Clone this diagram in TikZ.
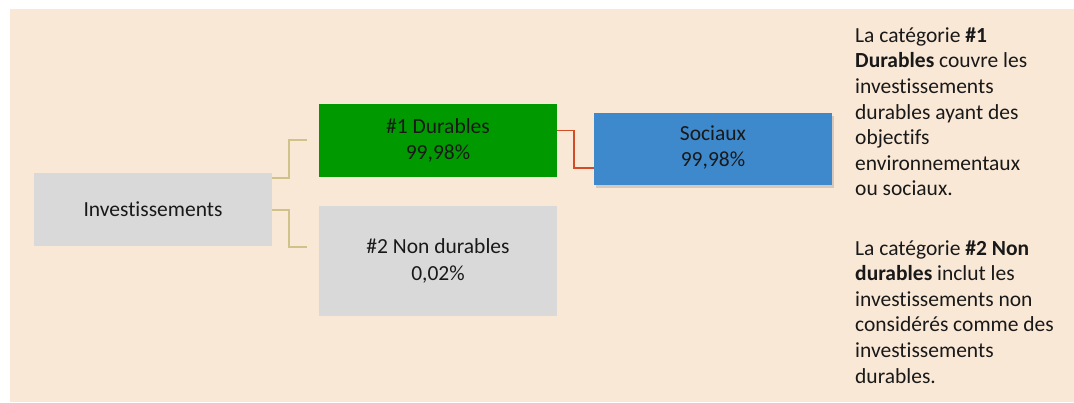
\documentclass[tikz,border=0pt]{standalone}
\usepackage{fontspec}
\setmainfont{Carlito}[Ligatures=NoCommon]
\usetikzlibrary{shadows}
\definecolor{bgpeach}{RGB}{250,232,214}
\definecolor{boxgray}{RGB}{217,217,217}
\definecolor{durgreen}{RGB}{0,153,0}
\definecolor{socblue}{RGB}{61,137,204}
\definecolor{linetan}{RGB}{208,194,136}
\definecolor{linered}{RGB}{212,76,38}
\tikzset{
  catbox/.style={rectangle, inner sep=0pt, minimum width=238pt, align=center,
    font=\fontsize{21.5}{26.5}\selectfont, text=black!90},
  tanline/.style={draw=linetan, line width=2pt},
  redline/.style={draw=linered, line width=1.6pt},
  desc/.style={anchor=base west, inner sep=0pt, align=left,
    font=\fontsize{21.5}{25.6}\selectfont, text=black!90}
}
\begin{document}
\begin{tikzpicture}[x=1pt, y=-1pt]
\useasboundingbox (0,0) rectangle (1074,403);
\fill[bgpeach] (10,9) rectangle (1074,402);
% category boxes
\node[catbox, fill=boxgray, minimum height=73pt] (inv) at (153,209.5) {Investissements};
\node[catbox, fill=durgreen, minimum height=73pt] (dur) at (438,140.5) {\#1 Durables\\99,98\%};
\node[catbox, fill=boxgray, minimum height=110pt] (nondur) at (438,261) {\#2 Non durables\\0,02\%};
\node[catbox, fill=socblue, minimum height=72pt,
  drop shadow={shadow xshift=2pt, shadow yshift=-3pt, opacity=0.3}] (soc) at (713,149) {Sociaux\\99,98\%\vspace{3pt}};
% connectors
\draw[tanline] ([yshift=31pt]inv.east) -- ++(17,0) |- ([xshift=-12pt]dur.west);
\draw[tanline] ([yshift=-0.5pt]inv.east) -- ++(17,0) |- ([xshift=-12pt,yshift=14pt]nondur.west);
\draw[redline] ([yshift=10pt]dur.east) -- ++(17,0) |- ([yshift=-19pt]soc.west);
% explanations (anchored on the last line)
\node[desc] (desc1) at (855,196) {La catégorie \textbf{\#1}\\\textbf{Durables} couvre les\\investissements\\durables ayant des\\objectifs\\environnementaux\\ou sociaux.};
\node[desc] (desc2) at (855,383) {La catégorie \textbf{\#2 Non}\\\textbf{durables} inclut les\\investissements non\\considérés comme des\\investissements\\durables.};
\end{tikzpicture}
\end{document}
